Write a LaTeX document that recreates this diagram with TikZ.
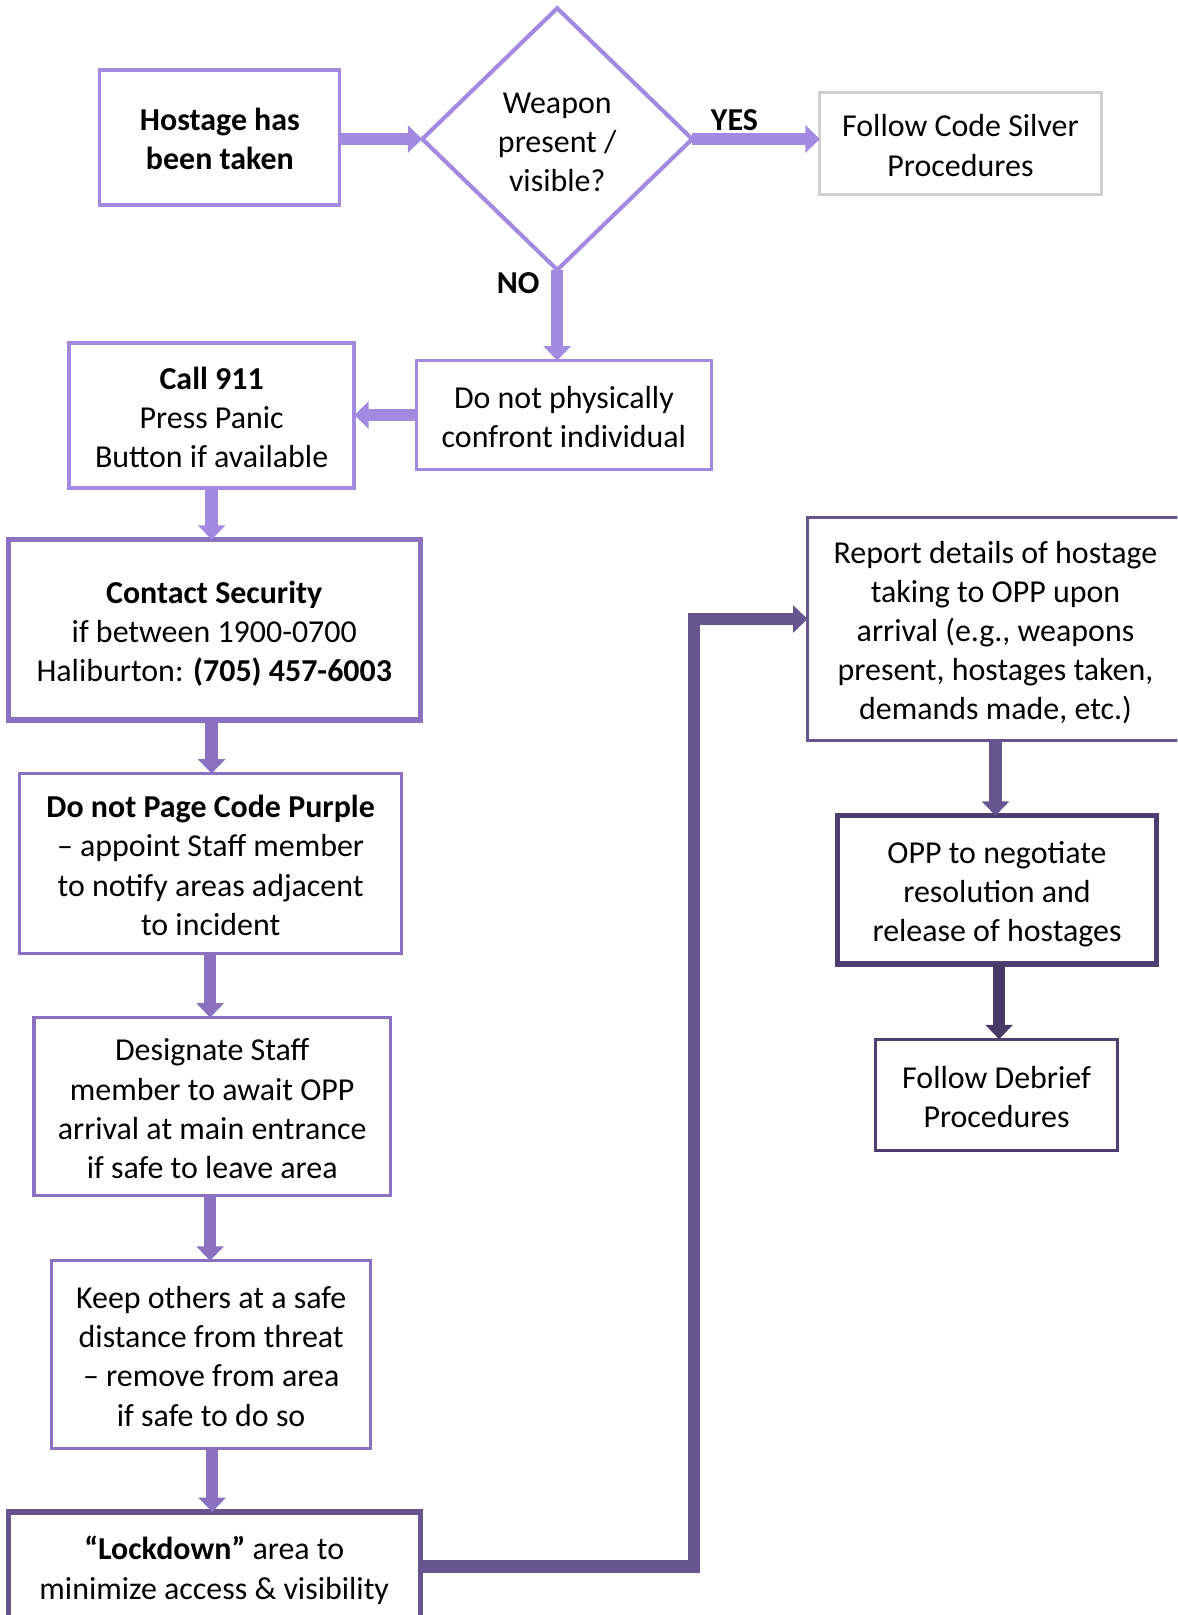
\documentclass[tikz,border=0pt]{standalone}
\usepackage{fontspec}
\setmainfont{Carlito}
\usetikzlibrary{shapes.geometric,arrows.meta}
\definecolor{lightP}{HTML}{A18AE0}
\definecolor{medP}{HTML}{8A72C0}
\definecolor{darkP}{HTML}{67558F}
\definecolor{darkerP}{HTML}{4E3F73}
\definecolor{deepP}{HTML}{483A66}
\definecolor{silverG}{HTML}{D0D0D0}
\newcommand\topst{\rule{0pt}{17.5pt}}
\newcommand\botst{\rule[-5pt]{0pt}{5pt}}
\begin{document}
\begin{tikzpicture}[x=0.5pt,y=-0.5pt,
  txt/.style={font=\fontsize{15.5pt}{19pt}\selectfont},
  box/.style={txt, draw, rectangle, inner sep=0pt, outer sep=0pt, align=center, fill=white},
  thin/.style={line width=1.5pt},
  thick/.style={line width=2.5pt},
  ar/.style={line width=6pt, -{Triangle[width=13pt,length=7pt]}},
]
\useasboundingbox (0,0) rectangle (1143,1568);
\clip (0,0) rectangle (1143,1568);

% nodes
\node[box, thin, draw=lightP, minimum width=116.5pt, minimum height=65.5pt, font=\fontsize{15.5pt}{19pt}\selectfont\bfseries] (host) at (213.5,133.5) {\topst Hostage has\\been taken\botst};
\node[txt, diamond, draw=lightP, line width=2pt, minimum width=131pt, minimum height=127pt, inner sep=0pt, outer sep=0pt, align=center] (dia) at (541,135) {\rule{0pt}{18pt}Weapon\\present /\\visible?\botst};
\node[box, thin, draw=silverG, minimum width=136.5pt, minimum height=49.5pt] (silver) at (932.5,139.5) {\topst Follow Code Silver\\Procedures\botst};
\node[box, thin, draw=lightP, minimum width=143.5pt, minimum height=53pt] (don) at (547.5,403) {\topst Do not physically\\confront individual\botst};
\node[box, line width=2pt, draw=lightP, minimum width=138.5pt, minimum height=70.5pt] (call) at (205.5,403.5) {\topst\textbf{Call 911}\\Press Panic\\Button if available\botst};
\node[box, thick, draw=medP, minimum width=200pt, minimum height=87.5pt] (contact) at (208,611.5) {\topst\textbf{Contact Security}\\if between 1900-0700\\Haliburton: \textbf{(705) 457-6003}\botst};
\node[box, thin, draw=medP, minimum width=185.5pt, minimum height=87.5pt] (page) at (204.5,838.5) {\topst\textbf{Do not Page Code Purple}\\– appoint Staff member\\to notify areas adjacent\\to incident\botst};
\node[box, thin, draw=medP, minimum width=173pt, minimum height=86.5pt] (desig) at (206,1074.5) {\topst Designate Staff\\member to await OPP\\arrival at main entrance\\if safe to leave area\botst};
\node[box, thin, draw=medP, minimum width=155pt, minimum height=91pt] (keep) at (205,1315) {\topst Keep others at a safe\\distance from threat\\– remove from area\\if safe to do so\botst};
\node[box, thick, draw=darkP, minimum width=200pt, minimum height=53pt] (lock) at (208,1521) {\topst\textbf{“Lockdown”} area to\\minimize access \& visibility\botst};
\node[box, thin, draw=darkP, minimum width=182.5pt, minimum height=108.5pt] (report) at (966.5,610.5) {\topst Report details of hostage\\taking to OPP upon\\arrival (e.g., weapons\\present, hostages taken,\\demands made, etc.)\botst};
\node[box, thick, draw=darkerP, minimum width=155pt, minimum height=72pt] (opp) at (968,864) {\topst OPP to negotiate\\resolution and\\release of hostages\botst};
\node[box, thin, draw=darkerP, minimum width=117.5pt, minimum height=54pt] (deb) at (967.5,1063) {\topst Follow Debrief\\Procedures\botst};

% labels
\node[txt, font=\fontsize{15.5pt}{19pt}\selectfont\bfseries] (yes) at (713,117) {YES};
\node[txt, font=\fontsize{15.5pt}{19pt}\selectfont\bfseries] (no) at (503,275) {NO};

% connectors
\draw[ar, lightP] (host.east |- dia.west) -- (dia.west);
\draw[ar, lightP] (dia.east) -- (silver.west |- dia.east);
\draw[ar, lightP] (dia.south) -- (dia.south |- don.north);
\draw[ar, lightP] (don.west) -- (call.east |- don.west);
\draw[ar, lightP] (call.south) -- (call.south |- contact.north);
\draw[ar, medP] (contact.south -| call.south) -- (call.south |- page.north);
\draw[ar, medP] (page.south -| 204,0) -- (204,988);
\draw[ar, medP] (desig.south -| 204,0) -- (204,1224);
\draw[ar, medP] (keep.south -| 206,0) -- (206,1468);
\coordinate (elb) at (673.5,601);
\draw[ar, darkP, line join=miter] (lock.east) -| (elb) -- (report.west |- elb);
\draw[ar, darkP] (report.south) -- (report.south |- opp.north);
\draw[ar, deepP] (opp.south -| 970,0) -- (970,1009);
\end{tikzpicture}
\end{document}
